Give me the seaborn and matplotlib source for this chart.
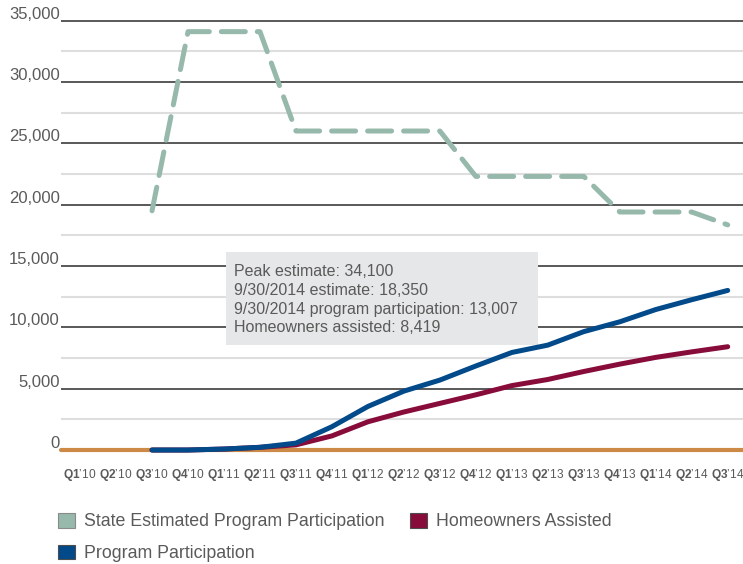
import numpy as np
import pandas as pd
import matplotlib
matplotlib.use("Agg")
import matplotlib.pyplot as plt
from matplotlib import font_manager
from matplotlib.patches import Patch, Rectangle
from matplotlib.ticker import FuncFormatter
import matplotlib.transforms as mtransforms
import seaborn as sns

# ---- data -------------------------------------------------------------
quarters = ["Q1", "Q2", "Q3", "Q4", "Q1", "Q2", "Q3", "Q4", "Q1", "Q2",
            "Q3", "Q4", "Q1", "Q2", "Q3", "Q4", "Q1", "Q2", "Q3"]
years = ["10", "10", "10", "10", "11", "11", "11", "11", "12", "12",
         "12", "12", "13", "13", "13", "13", "14", "14", "14"]

state_estimate = [None, None, 19500, 34100, 34100, 34100, 26000, 26000, 26000, 26000,
                  26000, 22300, 22300, 22300, 22300, 19400, 19400, 19400, 18350]
homeowners_assisted = [None, None, 0, 0, 80, 220, 420, 1150, 2300, 3100,
                       3800, 4500, 5250, 5750, 6400, 7000, 7550, 8000, 8419]
program_participation = [None, None, 0, 0, 80, 220, 560, 1900, 3550, 4800,
                         5700, 6850, 7950, 8550, 9650, 10450, 11450, 12250, 13007]

notes = ["Peak estimate: 34,100",
         "9/30/2014 estimate: 18,350",
         "9/30/2014 program participation: 13,007",
         "Homeowners assisted: 8,419"]

series_names = ["State Estimated Program Participation",
                "Homeowners Assisted",
                "Program Participation"]

# ---- style ------------------------------------------------------------
sns.set_theme(style="white")
plt.rcParams["font.family"] = ["Liberation Sans", "DejaVu Sans"]
plt.rcParams["mathtext.fontset"] = "custom"
plt.rcParams["mathtext.rm"] = "Liberation Sans"
plt.rcParams["mathtext.bf"] = "Liberation Sans:bold"

available = {f.name for f in font_manager.fontManager.ttflist}
if "Liberation Sans Narrow" in available:
    legend_family, legend_size = "Liberation Sans Narrow", 15.4
else:
    legend_family, legend_size = "Liberation Sans", 12.75

c_state = "#97b9ab"
c_assist = "#880c3a"
c_program = "#024a89"
c_zero = "#cc8a46"
c_text = "#5a5a5a"

idx = np.arange(len(quarters))
df = pd.DataFrame({
    "q": idx,
    "state": pd.array(state_estimate, dtype="Float64"),
    "assist": pd.array(homeowners_assisted, dtype="Float64"),
    "program": pd.array(program_participation, dtype="Float64"),
})

fig = plt.figure(figsize=(7.43, 5.64), dpi=100)
ax = fig.add_axes([0.0821, 0.2021, 0.9179, 0.7679])

# background gridlines
ax.set_ylim(0, 35300)
ax.set_xlim(-0.53, 18.425)
ax.set_yticks(np.arange(0, 35001, 5000))
ax.set_yticks(np.arange(2500, 35000, 5000), minor=True)
ax.grid(which="major", axis="y", color="#3c3c3c", linewidth=1.2, zorder=0)
ax.grid(which="minor", axis="y", color="#dedede", linewidth=1.5, zorder=0)
ax.grid(False, axis="x")
ax.set_axisbelow(True)
for s in ax.spines.values():
    s.set_visible(False)

# zero baseline
ax.axhline(0, color=c_zero, linewidth=3.0, zorder=2, clip_on=False)

# series
d = df.dropna(subset=["state"])
sns.lineplot(data=d, x="q", y="state", ax=ax, color=c_state, linewidth=3.6,
             linestyle=(0, (4.8, 2.4)), dash_capstyle="round",
             dash_joinstyle="round", zorder=3, clip_on=False)
d = df.dropna(subset=["assist"])
sns.lineplot(data=d, x="q", y="assist", ax=ax, color=c_assist, linewidth=3.6,
             solid_capstyle="round", zorder=4, clip_on=False)
d = df.dropna(subset=["program"])
sns.lineplot(data=d, x="q", y="program", ax=ax, color=c_program, linewidth=3.6,
             solid_capstyle="round", zorder=5, clip_on=False)

ax.set_xlabel("")
ax.set_ylabel("")

# y labels sit on top of their gridlines
ax.yaxis.set_major_formatter(FuncFormatter(lambda v, p: f"{int(v):,}"))
ax.tick_params(axis="y", which="both", length=0, pad=1, labelsize=12,
               labelcolor=c_text)
lift = mtransforms.ScaledTranslation(0, 1.5 / 72, fig.dpi_scale_trans)
for t in ax.yaxis.get_major_ticks():
    t.label1.set_verticalalignment("baseline")
    t.label1.set_transform(t.label1.get_transform() + lift)

# x ticks: bold quarter, regular year
ax.set_xticks(idx)
ax.set_xticklabels([rf"$\mathbf{{{q}}}$’{y}" for q, y in zip(quarters, years)])
ax.tick_params(axis="x", length=7.5, width=1.2, color="#333333",
               direction="out", pad=5, labelsize=8.6, labelcolor=c_text)

# note box
ax.add_patch(Rectangle((0.2419, 0.2425), 0.4575, 0.2149, transform=ax.transAxes,
                       facecolor="#e6e7e8", edgecolor="none", zorder=2.5))
ax.text(0.2537, 0.4285, "\n".join(notes), transform=ax.transAxes,
        ha="left", va="top", fontsize=11.5, color=c_text, linespacing=1.3,
        zorder=2.6)

# legend
handles = [
    Patch(facecolor=c_state, edgecolor="#8a8a8a", linewidth=0.8, label=series_names[0]),
    Patch(facecolor=c_program, edgecolor="#4d4d4d", linewidth=0.8, label=series_names[2]),
    Patch(facecolor=c_assist, edgecolor="#4d4d4d", linewidth=0.8, label=series_names[1]),
]
fig.legend(handles=handles, loc="upper left", bbox_to_anchor=(58 / 743, 1 - 513 / 564),
           ncol=2, frameon=False, borderpad=0, borderaxespad=0,
           handlelength=0.95, handleheight=0.9, handletextpad=0.5,
           columnspacing=1.45, labelspacing=0.8,
           prop={"family": legend_family, "size": legend_size},
           labelcolor=c_text)

fig.savefig("out.png", dpi=100)
